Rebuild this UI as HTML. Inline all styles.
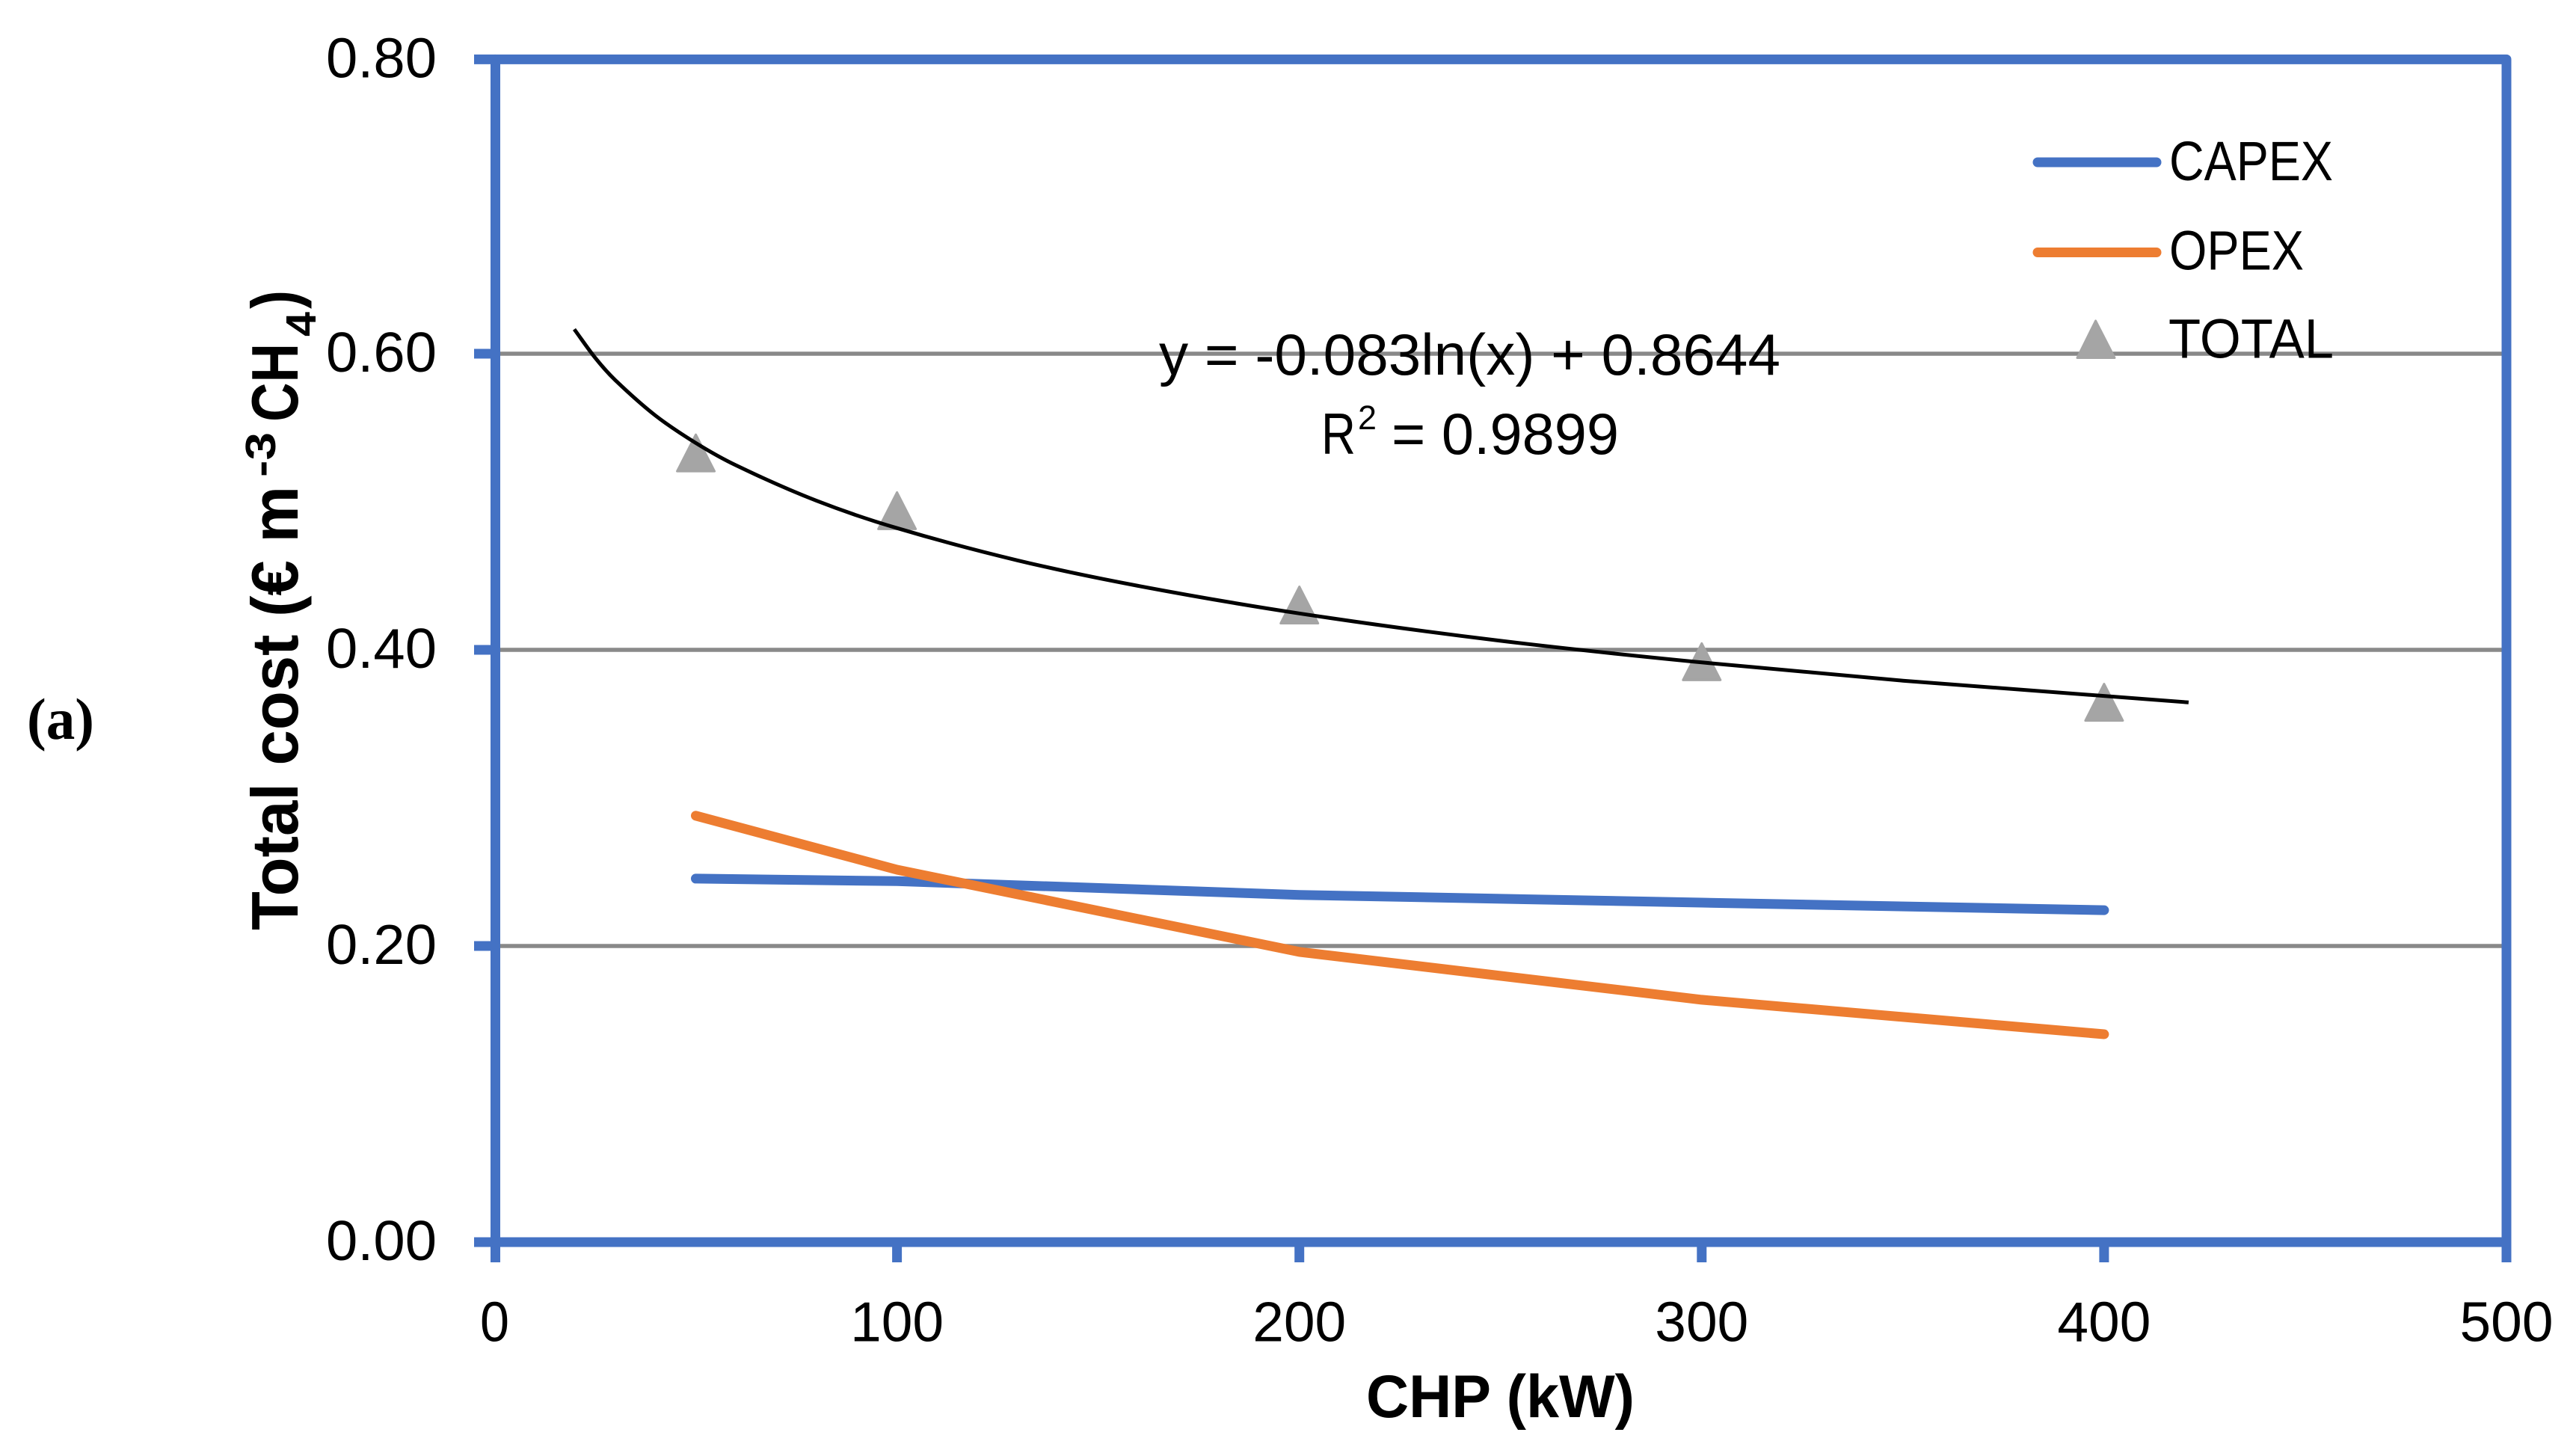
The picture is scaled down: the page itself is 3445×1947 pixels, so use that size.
<!DOCTYPE html>
<html lang="en">
<head>
<meta charset="utf-8">
<title>Total cost vs CHP</title>
<style>
html,body{margin:0;padding:0;background:#fff;}
svg{display:block;}
text{font-family:"Liberation Sans",sans-serif;fill:#000;}
.tick{font-size:75px;}
.leg{font-size:74px;}
.eq{font-size:78px;}
.b{font-weight:bold;}
</style>
</head>
<body>
<svg id="chart" xmlns="http://www.w3.org/2000/svg" width="3445" height="1947" viewBox="0 0 3445 1947">
  <rect x="0" y="0" width="3445" height="1947" fill="#fff"/>
  <g id="grid"></g>
  <g id="frame"></g>
  <g id="ticklabels"></g>
  <g id="series"></g>

  <text x="36" y="988" font-size="78" font-weight="bold" style="font-family:'Liberation Serif',serif" textLength="90" lengthAdjust="spacingAndGlyphs">(a)</text>

  <g transform="rotate(-90 398 1244)">
    <text class="b" x="398" y="1244" font-size="88" textLength="594" lengthAdjust="spacingAndGlyphs">Total cost (€ m</text>
    <text class="b" x="1004" y="1214" font-size="57" textLength="60" lengthAdjust="spacingAndGlyphs">-3</text>
    <text class="b" x="1078" y="1244" font-size="88" textLength="105" lengthAdjust="spacingAndGlyphs">CH</text>
    <text class="b" x="1192" y="1268" font-size="57" textLength="33" lengthAdjust="spacingAndGlyphs">4</text>
    <text class="b" x="1229" y="1244" font-size="88" textLength="25" lengthAdjust="spacingAndGlyphs">)</text>
  </g>

  <text class="b" x="1827" y="1895" font-size="81" textLength="359" lengthAdjust="spacingAndGlyphs">CHP (kW)</text>

  <text class="eq" x="1550" y="501" textLength="831" lengthAdjust="spacingAndGlyphs">y = -0.083ln(x) + 0.8644</text>
  <g>
    <text class="eq" x="1767" y="607" textLength="46" lengthAdjust="spacingAndGlyphs">R</text>
    <text x="1816" y="574" font-size="45" textLength="25" lengthAdjust="spacingAndGlyphs">2</text>
    <text class="eq" x="1861" y="607" textLength="304" lengthAdjust="spacingAndGlyphs">= 0.9899</text>
  </g>

  <g>
    <line x1="2725" y1="217" x2="2884" y2="217" stroke="#4472C4" stroke-width="13" stroke-linecap="round"/>
    <text class="leg" x="2901" y="241" textLength="219" lengthAdjust="spacingAndGlyphs">CAPEX</text>
    <line x1="2725" y1="337.5" x2="2884" y2="337.5" stroke="#ED7D31" stroke-width="13" stroke-linecap="round"/>
    <text class="leg" x="2901" y="360.5" textLength="180" lengthAdjust="spacingAndGlyphs">OPEX</text>
    <polygon points="2802.6,429 2828,478.5 2778,478.5" fill="#A5A5A5" stroke="#A5A5A5" stroke-width="3" stroke-linejoin="round"/>
    <text class="leg" x="2900" y="478.4" textLength="221" lengthAdjust="spacingAndGlyphs">TOTAL</text>
  </g>
</svg>

<script>
const xTickLabels = ["0", "100", "200", "300", "400", "500"];
const yTickLabels = ["0.00", "0.20", "0.40", "0.60", "0.80"];
const capacity = [50, 100, 200, 300, 400];
const capex = [0.2455, 0.2438, 0.2345, 0.2293, 0.2242];
const opex = [0.288, 0.2515, 0.196, 0.1637, 0.1404];
const total = [0.533, 0.494, 0.4303, 0.392, 0.3646];
const trendCapacity = [19.8, 25, 30, 40, 50, 60, 80, 100, 130, 160, 200, 250, 300, 350, 421];
const trendCost = [0.6165, 0.5972, 0.5821, 0.5582, 0.5397, 0.5246, 0.5007, 0.4822, 0.4604, 0.4432, 0.4246, 0.4061, 0.3915, 0.3792, 0.3645];

const NS = "http://www.w3.org/2000/svg";
function xScale(v) { return 661.5 + 5.381 * v; }
function yScale(v) { return 1661 - 1980 * v; }
function make(tag, parentId, attrs) {
  const el = document.createElementNS(NS, tag);
  for (const k in attrs) el.setAttribute(k, attrs[k]);
  document.getElementById(parentId).appendChild(el);
  return el;
}
function linePath(px, py) {
  return px.map((v, i) => (i ? "L" : "M") + xScale(v).toFixed(1) + " " + yScale(py[i]).toFixed(1)).join(" ");
}
function smoothPath(px, py) {
  const p = px.map((v, i) => [xScale(v), yScale(py[i])]);
  let d = "M" + p[0][0].toFixed(1) + " " + p[0][1].toFixed(1);
  for (let i = 0; i < p.length - 1; i++) {
    const a = p[Math.max(i - 1, 0)], b = p[i], c = p[i + 1], e = p[Math.min(i + 2, p.length - 1)];
    const t1 = (c[0] - a[0]) === 0 ? 0 : (c[1] - a[1]) / (c[0] - a[0]);
    const t2 = (e[0] - b[0]) === 0 ? 0 : (e[1] - b[1]) / (e[0] - b[0]);
    const h = (c[0] - b[0]) / 3;
    d += " C" + (b[0] + h).toFixed(1) + " " + (b[1] + t1 * h).toFixed(1) + " " +
         (c[0] - h).toFixed(1) + " " + (c[1] - t2 * h).toFixed(1) + " " +
         c[0].toFixed(1) + " " + c[1].toFixed(1);
  }
  return d;
}

const BLUE = "#4472C4";
const left = xScale(0) + 1;
const right = xScale(500);
const bottom = yScale(0);
const topEdge = yScale(0.8) + 2.4;

yTickLabels.forEach(function (label) {
  const v = parseFloat(label);
  const tickY = v === 0.8 ? topEdge : yScale(v);
  if (v > 0 && v < 0.8) {
    const g = make("line", "grid", { x1: left, x2: right, y1: tickY, y2: tickY, stroke: "#898989", "stroke-width": 5.5 });
    
    
  }
  const t = make("line", "frame", { x1: 634, x2: left, y1: tickY, y2: tickY, stroke: BLUE, "stroke-width": 13 });
  
  
  const txt = make("text", "ticklabels", { class: "tick", x: 436, y: tickY + 24, textLength: 148, lengthAdjust: "spacingAndGlyphs" });
  txt.textContent = label;
  
  
});

xTickLabels.forEach(function (label) {
  const v = parseFloat(label);
  const tickX = v === 0 ? left : xScale(v);
  const t = make("line", "frame", { x1: tickX, x2: tickX, y1: bottom, y2: 1688, stroke: BLUE, "stroke-width": 13 });
  
  
  const len = label.length === 1 ? 39 : 125;
  const txt = make("text", "ticklabels", { class: "tick", x: xScale(v) - len / 2, y: 1793.5, textLength: len, lengthAdjust: "spacingAndGlyphs" });
  txt.textContent = label;
  
  
});

const frameRect = make("path", "frame", {
  d: "M" + left + " " + bottom + " L" + left + " " + topEdge + " L" + right + " " + topEdge + " L" + right + " " + bottom + " Z",
  fill: "none", stroke: BLUE, "stroke-width": 13, "stroke-linejoin": "round"
});



const capexLine = make("path", "series", { d: linePath(capacity, capex), fill: "none", stroke: BLUE, "stroke-width": 13, "stroke-linecap": "round", "stroke-linejoin": "round" });



const opexLine = make("path", "series", { d: linePath(capacity, opex), fill: "none", stroke: "#ED7D31", "stroke-width": 13, "stroke-linecap": "round", "stroke-linejoin": "round" });



capacity.forEach(function (c, i) {
  const cx = xScale(c), cy = yScale(total[i]);
  const m = make("polygon", "series", {
    points: cx + "," + (cy - 24.5) + " " + (cx + 25) + "," + (cy + 24.5) + " " + (cx - 25) + "," + (cy + 24.5),
    fill: "#A5A5A5", stroke: "#A5A5A5", "stroke-width": 3, "stroke-linejoin": "round"
  });
  
  
});

const trend = make("path", "series", { d: smoothPath(trendCapacity, trendCost), fill: "none", stroke: "#000", "stroke-width": 5 });


</script>
</body>
</html>
